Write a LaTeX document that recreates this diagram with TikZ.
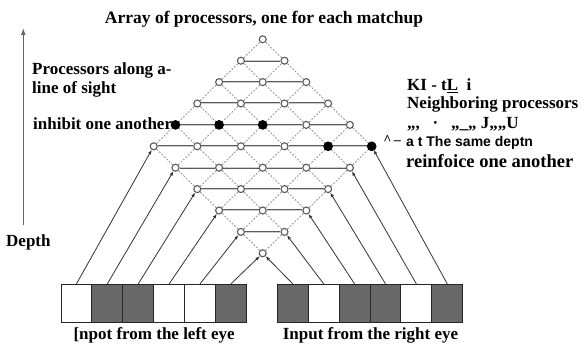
\documentclass[tikz,border=0pt]{standalone}
\usepackage{fontspec}
\setmainfont{Liberation Serif}
\newfontfamily\lblsans{Liberation Sans}
\usetikzlibrary{arrows.meta,positioning,calc}
\definecolor{eyeGray}{RGB}{104,104,104}
\definecolor{netGray}{RGB}{90,90,90}
\definecolor{dashGray}{RGB}{150,150,150}

\begin{document}
\begin{tikzpicture}[x=1pt,y=-1pt,
      lbl/.style={font=\bfseries\fontsize{17}{19}\selectfont,inner sep=0pt},
      proc/.style={circle,draw=netGray,fill=white,line width=1.1pt,inner sep=0pt,minimum size=7pt},
      hot/.style={draw=black,fill=black,minimum size=8.5pt},
      eye/.style={draw=black!85,line width=0.9pt,minimum width=30.9pt,minimum height=38.4pt,inner sep=0pt},
      feed/.style={-{Latex[length=4.5pt,width=3.4pt]},black!80,line width=0.8pt},
      samedepth/.style={netGray,double=gray!40,double distance=0.6pt,line width=0.7pt},
      sight/.style={dashGray,line width=0.9pt,dash pattern=on 1.8pt off 1.6pt}]
    \useasboundingbox (0,0) rectangle (584,344);
    \node[lbl,font=\bfseries\fontsize{17.5}{19}\selectfont] (title) at (264,19.5) {Array of processors, one for each matchup};
    \coordinate (dtail) at (23.3,225);
    \coordinate (dhead) at (23.3,28);
    \draw[-{Latex[length=7pt,width=5pt]},black!60,line width=1.5pt] (dtail) -- (dhead);
    \node[lbl,anchor=west] (depth) at (6,242) {Depth};
    \node[lbl,anchor=west] (along) at (32,70) {Processors along a-};
    \node[lbl,anchor=west] (sightlbl) at (32,89) {line of sight};
    \node[lbl,anchor=west] (inhibit) at (33,124) {inhibit one another};
    \node[lbl,anchor=west] (klt) at (407,85.5) {KI - t\underline{L}\ \ i};
    \node[lbl,anchor=west] (neigh) at (407,104) {Neighboring processors};
    \node[lbl,anchor=west] (garble) at (407,124) {,,,\ \ \ ·\ \ \ ,,\_,,\ J,,,,U};
    \node[lbl,font=\bfseries\fontsize{14}{16}\selectfont,anchor=east] (caret) at (401,140) {\^{}\,--};
    \node[anchor=west,inner sep=0pt,font=\lblsans\bfseries\fontsize{14}{16}\selectfont] (atdepth) at (406,143) {a t The same deptn};
    \node[lbl,font=\bfseries\fontsize{18.5}{20}\selectfont,anchor=west] (reinf) at (406,161) {reinfoice one another};
    \foreach \p in {0,...,5}
      \foreach \q in {0,...,5}
        \node[proc] (m-\p-\q) at ({262.7+(\q-\p)*21.8},{253.3-(\p+\q)*21.4}) {};
    \foreach \p in {0,...,5}{
      \foreach \q in {0,...,4}{
        \pgfmathtruncatemacro\qn{\q+1}
        \draw[sight] (m-\p-\q) -- (m-\p-\qn);
        \draw[sight] (m-\q-\p) -- (m-\qn-\p);
      }
    }
    \foreach \p in {1,...,5}{
      \foreach \q in {0,...,4}{
        \pgfmathtruncatemacro\pn{\p-1}
        \pgfmathtruncatemacro\qn{\q+1}
        \draw[samedepth] (m-\p-\q) -- (m-\pn-\qn);
      }
    }
    \foreach \p/\q in {5/1,4/2,3/3,1/4,0/5}
      \node[proc,hot] (hot-\p-\q) at (m-\p-\q) {};
    \foreach \k/\c in {1/white,2/eyeGray,3/eyeGray,4/white,5/white,6/eyeGray}
      \node[eye,fill=\c] (l\k) at ({76.45+(\k-1)*30.9},303.5) {};
    \foreach \k/\c in {1/eyeGray,2/white,3/eyeGray,4/eyeGray,5/white,6/eyeGray}
      \node[eye,fill=\c] (r\k) at ({292.75+(\k-1)*30.9},303.5) {};
    \foreach \i in {1,...,6}{
      \pgfmathtruncatemacro\p{6-\i}
      \pgfmathtruncatemacro\q{\i-1}
      \draw[feed] (l\i.north) -- (m-\p-0);
      \draw[feed] (r\i.north) -- (m-0-\q);
    }
    \node[lbl,below=4.5pt of l3.south east] (leftin) {[npot from the left eye};
    \node[lbl,below=4.5pt of r3.south east] (rightin) {Input from the right eye};
  \end{tikzpicture}
\end{document}
